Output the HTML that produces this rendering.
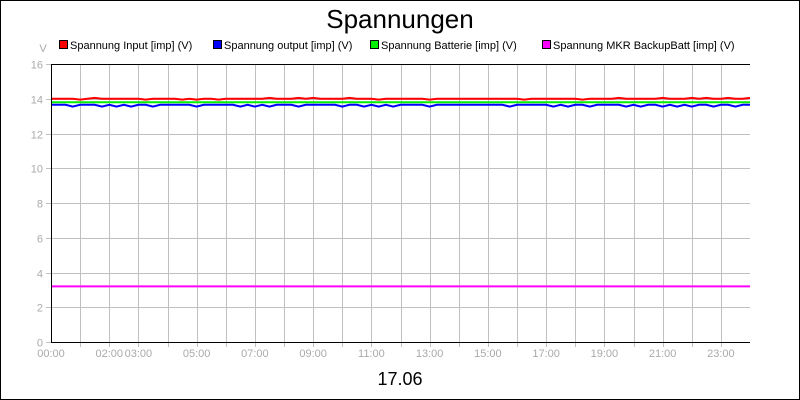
<!DOCTYPE html>
<html><head><meta charset="utf-8">
<style>
body{margin:0;background:#fff;}
svg{display:block;font-family:"Liberation Sans",sans-serif;}
</style></head>
<body>
<svg id="chart" width="800" height="400">
<rect x="0.5" y="0.5" width="799" height="399" fill="#fff" stroke="#000"/>
<text x="400" y="28" text-anchor="middle" font-size="26" fill="#000">Spannungen</text>
<text x="43" y="52" text-anchor="middle" font-size="11" fill="#aaa">V</text>
<g id="legend"></g>
<g id="grid"></g>
<g id="series"></g>
<g id="axes"></g>
<text x="400" y="385" text-anchor="middle" font-size="18" fill="#000">17.06</text>
</svg>
<script>
const yTicks=[0,2,4,6,8,10,12,14,16];
const xLabelHours=[0,2,3,5,7,9,11,13,15,17,19,21,23];
const xLabels=["00:00","02:00","03:00","05:00","07:00","09:00","11:00","13:00","15:00","17:00","19:00","21:00","23:00"];
const seriesNames=["Spannung Input [imp] (V)","Spannung output [imp] (V)","Spannung Batterie [imp] (V)","Spannung MKR BackupBatt [imp] (V)"];
const seriesColors=["#ff0000","#0000ff","#00ee00","#ff00ff"];
const inputV=[14.0,14.0,14.0,14.0,13.95,14.0,14.05,14.0,14.0,14.0,14.0,14.0,14.0,13.95,14.0,14.0,14.0,14.0,13.95,14.0,13.95,14.0,14.0,13.95,14.0,14.0,14.0,14.0,14.0,14.0,14.05,14.0,14.0,14.0,14.05,14.0,14.05,14.0,14.0,14.0,14.0,14.05,14.0,14.0,14.0,13.95,14.0,14.0,14.0,14.0,14.0,14.0,13.95,14.0,14.0,14.0,14.0,14.0,14.0,14.0,14.0,14.0,14.0,14.0,14.0,13.95,14.0,14.0,14.0,14.0,14.0,14.0,14.0,13.95,14.0,14.0,14.0,14.0,14.05,14.0,14.0,14.0,14.0,14.0,14.05,14.0,14.0,14.0,14.05,14.0,14.05,14.0,14.0,14.05,14.0,14.0,14.05];
const outputV=[13.65,13.65,13.65,13.55,13.65,13.65,13.65,13.55,13.65,13.55,13.65,13.55,13.65,13.65,13.55,13.65,13.65,13.65,13.65,13.65,13.55,13.65,13.65,13.65,13.65,13.65,13.55,13.65,13.55,13.65,13.55,13.65,13.65,13.65,13.55,13.65,13.65,13.65,13.65,13.65,13.55,13.65,13.65,13.55,13.65,13.55,13.65,13.55,13.65,13.65,13.65,13.65,13.55,13.65,13.65,13.65,13.65,13.65,13.65,13.65,13.65,13.65,13.65,13.55,13.65,13.65,13.65,13.65,13.65,13.55,13.65,13.55,13.65,13.65,13.55,13.65,13.65,13.65,13.65,13.55,13.65,13.55,13.65,13.65,13.55,13.65,13.55,13.65,13.55,13.65,13.65,13.55,13.65,13.65,13.55,13.65,13.65];
const battV=[13.8,13.8,13.8,13.8,13.8,13.8,13.8,13.8,13.8,13.8,13.8,13.8,13.8,13.8,13.8,13.8,13.8,13.8,13.8,13.8,13.8,13.8,13.8,13.8,13.8];
const mkrV=[3.2,3.2,3.2,3.2,3.2,3.2,3.2,3.2,3.2,3.2,3.2,3.2,3.2,3.2,3.2,3.2,3.2,3.2,3.2,3.2,3.2,3.2,3.2,3.2,3.2];
const allSeries=[inputV,outputV,battV,mkrV];

const NS="http://www.w3.org/2000/svg";
const X0=51,X1=750,Y0=342,Y1=64;
const xScale=h=>X0+(X1-X0)*h/24;
const yScale=v=>Y0-(Y0-Y1)*v/16;
function mk(tag,attrs,parent){const e=document.createElementNS(NS,tag);for(const k in attrs)e.setAttribute(k,attrs[k]);parent.appendChild(e);return e;}
const gridG=document.getElementById('grid'),axesG=document.getElementById('axes'),serG=document.getElementById('series'),legG=document.getElementById('legend');

for(let h=1;h<24;h++){
  const x=Math.round(xScale(h))+0.5;
  const l=mk('line',{x1:x,x2:x,y1:Y1,y2:Y0+5,stroke:'#c0c0c0','stroke-width':1},gridG);
  
  
}
yTicks.forEach(v=>{
  const y=Math.round(yScale(v))+0.5;
  const l=mk('line',{x1:X0-5,x2:X1,y1:y,y2:y,stroke:'#c0c0c0','stroke-width':1},gridG);
  
  
  const t=mk('text',{x:X0-8,y:y+4,'text-anchor':'end','font-size':11,fill:'#aaa'},axesG);
  t.textContent=v;
  
  
});
xLabelHours.forEach((h,i)=>{
  const t=mk('text',{x:xScale(h),y:357,'text-anchor':'middle','font-size':11,fill:'#aaa'},axesG);
  t.textContent=xLabels[i];
  
  
});
const axPath=mk('path',{d:`M${X0+0.5},${Y1} V${Y0+0.5} H${X1}`,fill:'none',stroke:'#000','stroke-width':1},axesG);


const topBorder=mk('line',{x1:X0,x2:X1,y1:Y1+0.5,y2:Y1+0.5,stroke:'#000'},axesG);



[2,3,0,1].forEach(si=>{
  const d=allSeries[si];
  const pts=d.map((v,i)=>xScale(24*i/(d.length-1)).toFixed(1)+','+yScale(v).toFixed(1)).join(' ');
  const p=mk('polyline',{points:pts,fill:'none',stroke:seriesColors[si],'stroke-width':2},serG);
  
  
});

const legX=[59,213,370,542];
seriesNames.forEach((n,i)=>{
  const r=mk('rect',{x:legX[i]+0.5,y:40.5,width:8,height:8,fill:seriesColors[i],stroke:'#000'},legG);
  
  
  const t=mk('text',{x:legX[i]+11,y:49,'font-size':11,fill:'#000'},legG);
  t.textContent=n;
  
  
});
</script>
</body></html>
